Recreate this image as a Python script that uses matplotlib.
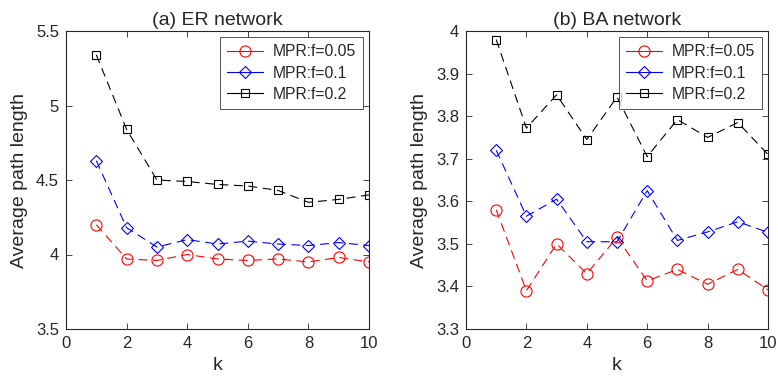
import numpy as np
import matplotlib.pyplot as plt

plt.rcParams["font.family"] = ["Liberation Sans", "DejaVu Sans"]

k = [1, 2, 3, 4, 5, 6, 7, 8, 9, 10]

er_f005 = [4.20, 3.97, 3.96, 4.00, 3.97, 3.96, 3.97, 3.95, 3.98, 3.95]
er_f01 = [4.63, 4.18, 4.05, 4.10, 4.07, 4.09, 4.07, 4.06, 4.08, 4.06]
er_f02 = [5.34, 4.84, 4.50, 4.49, 4.47, 4.46, 4.43, 4.35, 4.37, 4.40]

ba_f005 = [3.58, 3.39, 3.50, 3.43, 3.515, 3.413, 3.44, 3.405, 3.44, 3.392]
ba_f01 = [3.72, 3.565, 3.605, 3.505, 3.505, 3.625, 3.508, 3.528, 3.552, 3.527]
ba_f02 = [3.98, 3.772, 3.85, 3.745, 3.845, 3.705, 3.792, 3.75, 3.785, 3.71]

labels = ["MPR:f=0.05", "MPR:f=0.1", "MPR:f=0.2"]
TXT = "#262626"

STYLES = [
    dict(color="red", marker="o", ms=8),
    dict(color="blue", marker="D", ms=6.5),
    dict(color="black", marker="s", ms=5.5),
]

fig = plt.figure(figsize=(7.78, 3.88), dpi=100)
ax1 = fig.add_axes([66 / 778, 1 - 329 / 388, 303 / 778, 298 / 388])
ax2 = fig.add_axes([466 / 778, 1 - 329 / 388, 302 / 778, 298 / 388])


def draw(ax, series, title, ylim, yticks, yticklabels):
    for s, lab, st in zip(series, labels, STYLES):
        ax.plot(k, s, ls=(0, (8, 5)), lw=0.8, color=st["color"], marker=st["marker"],
                ms=st["ms"], mfc="none", mec=st["color"], mew=0.8, label=lab)
    ax.set_xlim(0, 10)
    ax.set_ylim(*ylim)
    ax.set_xticks([0, 2, 4, 6, 8, 10])
    ax.set_yticks(yticks)
    ax.set_yticklabels(yticklabels)
    ax.tick_params(direction="in", length=4, width=0.6, colors=TXT, labelsize=12,
                   top=True, right=True, pad=5)
    for sp in ax.spines.values():
        sp.set_linewidth(0.8)
        sp.set_color(TXT)
    ax.set_title(title, fontsize=14, color=TXT, pad=4)
    ax.set_xlabel("k", fontsize=14, color=TXT, labelpad=4)
    ax.set_ylabel("Average path length", fontsize=14, color=TXT, labelpad=6)
    leg = ax.legend(loc="upper right", fontsize=11.3, frameon=True, fancybox=False,
                    edgecolor=TXT, borderaxespad=0.4, handlelength=2.3,
                    handletextpad=0.6, labelspacing=0.4, borderpad=0.45)
    leg.get_frame().set_linewidth(0.7)
    for t in leg.get_texts():
        t.set_color(TXT)
    for h in leg.get_lines():
        h.set_linestyle("-")


draw(ax1, [er_f005, er_f01, er_f02], "(a) ER network", (3.5, 5.5),
     [3.5, 4, 4.5, 5, 5.5], ["3.5", "4", "4.5", "5", "5.5"])
draw(ax2, [ba_f005, ba_f01, ba_f02], "(b) BA network", (3.3, 4.0),
     [3.3, 3.4, 3.5, 3.6, 3.7, 3.8, 3.9, 4.0],
     ["3.3", "3.4", "3.5", "3.6", "3.7", "3.8", "3.9", "4"])

fig.savefig("out.png", dpi=100)
